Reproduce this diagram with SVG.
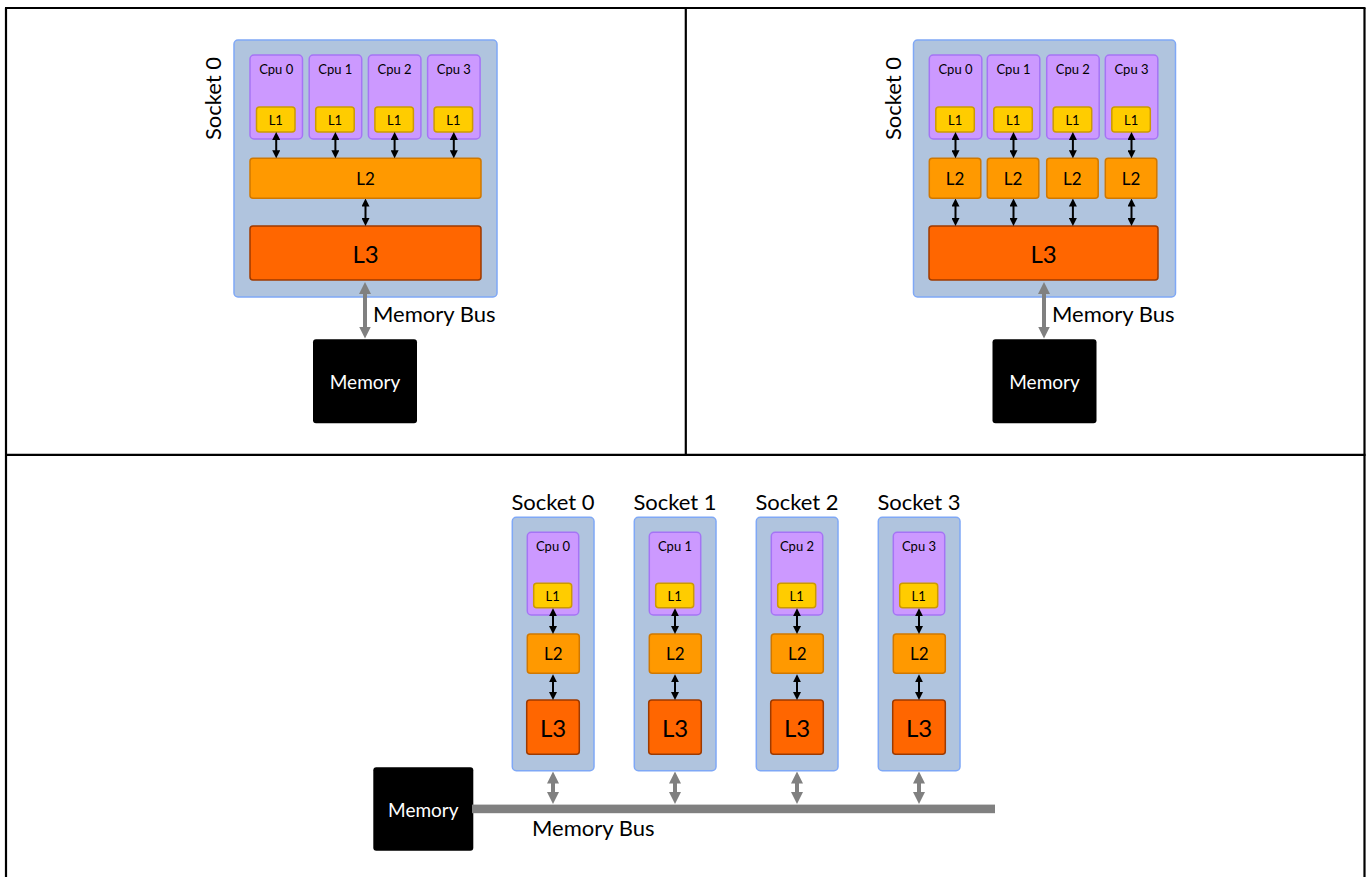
<svg xmlns="http://www.w3.org/2000/svg" width="1368" height="877" viewBox="0 0 1368 877">
  <style>
    text { font-family: Lato, "Liberation Sans", sans-serif; fill: #000; }
    .frame { stroke: #000; stroke-width: 2.2; fill: none; }
    .socket { fill: #b0c4de; stroke: #7fa8f6; stroke-width: 1.5; }
    .cpu { fill: #cc99ff; stroke: #a574f5; stroke-width: 1.5; }
    .l1 { fill: #ffcc00; stroke: #cc9a00; stroke-width: 1.5; }
    .l2 { fill: #ff9900; stroke: #d07800; stroke-width: 1.5; }
    .l3 { fill: #ff6600; stroke: #9e3a00; stroke-width: 1.5; }
    .mem { fill: #000; }
    .bus { fill: #808080; }
    .t-cpu { font-size: 13px; text-anchor: middle; }
    .t-l1 { font-size: 13px; text-anchor: middle; dominant-baseline: central; }
    .t-l2 { font-size: 17px; text-anchor: middle; dominant-baseline: central; }
    .t-l3 { font-size: 24px; text-anchor: middle; dominant-baseline: central; }
    .t-sock { font-size: 22px; text-anchor: middle; }
    .t-mem { font-size: 19px; fill: #fff; text-anchor: middle; dominant-baseline: central; }
    .t-bus { font-size: 22px; }
    .link { stroke: #000; stroke-width: 2; fill: none; marker-start: url(#headB); marker-end: url(#headB); }
    .glink { stroke: #808080; stroke-width: 4; fill: none; marker-start: url(#headG); marker-end: url(#headG); }
  </style>
  <defs>
    <marker id="headB" viewBox="0 0 10 10" refX="3" refY="5" markerUnits="userSpaceOnUse" markerWidth="8" markerHeight="8" orient="auto-start-reverse">
      <path d="M0,0 L10,5 L0,10 z" fill="#000"/>
    </marker>
    <marker id="headG" viewBox="0 0 10 10" refX="3" refY="5" markerUnits="userSpaceOnUse" markerWidth="12" markerHeight="12" orient="auto-start-reverse">
      <path d="M0,0 L10,5 L0,10 z" fill="#808080"/>
    </marker>
  </defs>

  <!-- table grid -->
  <g id="frame">
    <line class="frame" x1="6" y1="8" x2="6" y2="877"/>
    <line class="frame" x1="1364.5" y1="8" x2="1364.5" y2="877"/>
    <line class="frame" x1="5" y1="8" x2="1365.5" y2="8"/>
    <line class="frame" x1="5" y1="454.8" x2="1365.5" y2="454.8"/>
    <line class="frame" x1="685.8" y1="8" x2="685.8" y2="454.8"/>
  </g>

  <!-- Panel A: shared L2 -->
  <g id="a-socket0">
    <rect class="socket" x="234" y="40" width="263" height="257" rx="4"/>
    <text class="t-sock" transform="translate(221,98.5) rotate(-90)">Socket 0</text>
  </g>
  <g id="a-cpu0"><rect class="cpu" x="250" y="55" width="52.5" height="84" rx="4"/><text class="t-cpu" x="276.2" y="74">Cpu 0</text><rect class="l1" x="256.5" y="107" width="38.5" height="25" rx="3"/><text class="t-l1" x="275.8" y="119.5">L1</text></g>
  <g id="a-cpu1"><rect class="cpu" x="309.2" y="55" width="52.5" height="84" rx="4"/><text class="t-cpu" x="335.4" y="74">Cpu 1</text><rect class="l1" x="315.7" y="107" width="38.5" height="25" rx="3"/><text class="t-l1" x="335" y="119.5">L1</text></g>
  <g id="a-cpu2"><rect class="cpu" x="368.4" y="55" width="52.5" height="84" rx="4"/><text class="t-cpu" x="394.6" y="74">Cpu 2</text><rect class="l1" x="374.9" y="107" width="38.5" height="25" rx="3"/><text class="t-l1" x="394.2" y="119.5">L1</text></g>
  <g id="a-cpu3"><rect class="cpu" x="427.6" y="55" width="52.5" height="84" rx="4"/><text class="t-cpu" x="453.8" y="74">Cpu 3</text><rect class="l1" x="434.1" y="107" width="38.5" height="25" rx="3"/><text class="t-l1" x="453.4" y="119.5">L1</text></g>
  <g id="a-l2"><rect class="l2" x="250" y="158.3" width="231" height="40" rx="3"/><text class="t-l2" x="365.5" y="178.3">L2</text></g>
  <g id="a-l3"><rect class="l3" x="250" y="226" width="231" height="54" rx="3"/><text class="t-l3" x="365.5" y="253">L3</text></g>
  <g id="a-memory"><rect class="mem" x="313" y="339.3" width="104" height="84" rx="3"/><text class="t-mem" x="365" y="381.3">Memory</text></g>
  <text id="a-bus-label" class="t-bus" x="373" y="322">Memory Bus</text>

  <!-- Panel B: private L2 -->
  <g id="b-socket0">
    <rect class="socket" x="913.5" y="40" width="262" height="257" rx="4"/>
    <text class="t-sock" transform="translate(900.5,98.5) rotate(-90)">Socket 0</text>
  </g>
  <g id="b-cpu0"><rect class="cpu" x="929.3" y="55" width="52.5" height="84" rx="4"/><text class="t-cpu" x="955.5" y="74">Cpu 0</text><rect class="l1" x="935.8" y="107" width="38.5" height="25" rx="3"/><text class="t-l1" x="955.1" y="119.5">L1</text></g>
  <g id="b-cpu1"><rect class="cpu" x="987.3" y="55" width="52.5" height="84" rx="4"/><text class="t-cpu" x="1013.5" y="74">Cpu 1</text><rect class="l1" x="993.8" y="107" width="38.5" height="25" rx="3"/><text class="t-l1" x="1013.1" y="119.5">L1</text></g>
  <g id="b-cpu2"><rect class="cpu" x="1046.7" y="55" width="52.5" height="84" rx="4"/><text class="t-cpu" x="1072.9" y="74">Cpu 2</text><rect class="l1" x="1053.2" y="107" width="38.5" height="25" rx="3"/><text class="t-l1" x="1072.5" y="119.5">L1</text></g>
  <g id="b-cpu3"><rect class="cpu" x="1105.3" y="55" width="52.5" height="84" rx="4"/><text class="t-cpu" x="1131.5" y="74">Cpu 3</text><rect class="l1" x="1111.8" y="107" width="38.5" height="25" rx="3"/><text class="t-l1" x="1131.1" y="119.5">L1</text></g>
  <g id="b-l2-0"><rect class="l2" x="929.3" y="158.3" width="51.5" height="40" rx="3"/><text class="t-l2" x="955" y="178.3">L2</text></g>
  <g id="b-l2-1"><rect class="l2" x="987.3" y="158.3" width="51.5" height="40" rx="3"/><text class="t-l2" x="1013" y="178.3">L2</text></g>
  <g id="b-l2-2"><rect class="l2" x="1046.7" y="158.3" width="51.5" height="40" rx="3"/><text class="t-l2" x="1072.4" y="178.3">L2</text></g>
  <g id="b-l2-3"><rect class="l2" x="1105.3" y="158.3" width="51.5" height="40" rx="3"/><text class="t-l2" x="1131" y="178.3">L2</text></g>
  <g id="b-l3"><rect class="l3" x="929" y="226" width="229" height="54" rx="3"/><text class="t-l3" x="1043.5" y="253">L3</text></g>
  <g id="b-memory"><rect class="mem" x="992.5" y="339.3" width="104" height="84" rx="3"/><text class="t-mem" x="1044.5" y="381.3">Memory</text></g>
  <text id="b-bus-label" class="t-bus" x="1052" y="322">Memory Bus</text>

  <!-- Panel C: four sockets on one bus -->
  <g id="c-socket0">
    <text class="t-sock" x="553" y="510">Socket 0</text>
    <rect class="socket" x="512.3" y="517.3" width="81.7" height="253.4" rx="4"/>
    <rect class="cpu" x="527.3" y="532.3" width="51.4" height="82.7" rx="4"/><text class="t-cpu" x="553" y="551">Cpu 0</text>
    <rect class="l1" x="533.7" y="583.3" width="38" height="24.4" rx="3"/><text class="t-l1" x="552.7" y="595.5">L1</text>
    <rect class="l2" x="527.3" y="634" width="52" height="39.3" rx="3"/><text class="t-l2" x="553.3" y="653.7">L2</text>
    <rect class="l3" x="526.7" y="700" width="52.6" height="54.3" rx="3"/><text class="t-l3" x="553" y="727.2">L3</text>
  </g>
  <g id="c-socket1">
    <text class="t-sock" x="675" y="510">Socket 1</text>
    <rect class="socket" x="634.3" y="517.3" width="81.7" height="253.4" rx="4"/>
    <rect class="cpu" x="649.3" y="532.3" width="51.4" height="82.7" rx="4"/><text class="t-cpu" x="675" y="551">Cpu 1</text>
    <rect class="l1" x="655.7" y="583.3" width="38" height="24.4" rx="3"/><text class="t-l1" x="674.7" y="595.5">L1</text>
    <rect class="l2" x="649.3" y="634" width="52" height="39.3" rx="3"/><text class="t-l2" x="675.3" y="653.7">L2</text>
    <rect class="l3" x="648.7" y="700" width="52.6" height="54.3" rx="3"/><text class="t-l3" x="675" y="727.2">L3</text>
  </g>
  <g id="c-socket2">
    <text class="t-sock" x="797" y="510">Socket 2</text>
    <rect class="socket" x="756.3" y="517.3" width="81.7" height="253.4" rx="4"/>
    <rect class="cpu" x="771.3" y="532.3" width="51.4" height="82.7" rx="4"/><text class="t-cpu" x="797" y="551">Cpu 2</text>
    <rect class="l1" x="777.7" y="583.3" width="38" height="24.4" rx="3"/><text class="t-l1" x="796.7" y="595.5">L1</text>
    <rect class="l2" x="771.3" y="634" width="52" height="39.3" rx="3"/><text class="t-l2" x="797.3" y="653.7">L2</text>
    <rect class="l3" x="770.7" y="700" width="52.6" height="54.3" rx="3"/><text class="t-l3" x="797" y="727.2">L3</text>
  </g>
  <g id="c-socket3">
    <text class="t-sock" x="919" y="510">Socket 3</text>
    <rect class="socket" x="878.3" y="517.3" width="81.7" height="253.4" rx="4"/>
    <rect class="cpu" x="893.3" y="532.3" width="51.4" height="82.7" rx="4"/><text class="t-cpu" x="919" y="551">Cpu 3</text>
    <rect class="l1" x="899.7" y="583.3" width="38" height="24.4" rx="3"/><text class="t-l1" x="918.7" y="595.5">L1</text>
    <rect class="l2" x="893.3" y="634" width="52" height="39.3" rx="3"/><text class="t-l2" x="919.3" y="653.7">L2</text>
    <rect class="l3" x="892.7" y="700" width="52.6" height="54.3" rx="3"/><text class="t-l3" x="919" y="727.2">L3</text>
  </g>
  <g id="c-memory"><rect class="mem" x="373.3" y="767.3" width="100" height="83.4" rx="3"/><text class="t-mem" x="423.3" y="809">Memory</text></g>
  <g id="c-bus"><rect class="bus" x="472" y="804.6" width="523" height="8.6"/></g>
  <text id="c-bus-label" class="t-bus" x="532" y="836">Memory Bus</text>

  <!-- connectors: line ends sit 5.6px (black) / 8.4px (grey) short of each tip -->
  <g id="connectors">
    <!-- panel A -->
    <line class="link" x1="276.2" y1="137.6" x2="276.2" y2="152.7"/>
    <line class="link" x1="335.4" y1="137.6" x2="335.4" y2="152.7"/>
    <line class="link" x1="394.6" y1="137.6" x2="394.6" y2="152.7"/>
    <line class="link" x1="453.8" y1="137.6" x2="453.8" y2="152.7"/>
    <line class="link" x1="365.5" y1="204.1" x2="365.5" y2="220.4"/>
    <line class="glink" x1="365" y1="290.4" x2="365" y2="330.1"/>
    <!-- panel B -->
    <line class="link" x1="955.5" y1="137.6" x2="955.5" y2="152.7"/>
    <line class="link" x1="1013.5" y1="137.6" x2="1013.5" y2="152.7"/>
    <line class="link" x1="1072.9" y1="137.6" x2="1072.9" y2="152.7"/>
    <line class="link" x1="1131.5" y1="137.6" x2="1131.5" y2="152.7"/>
    <line class="link" x1="955.5" y1="204.1" x2="955.5" y2="220.4"/>
    <line class="link" x1="1013.5" y1="204.1" x2="1013.5" y2="220.4"/>
    <line class="link" x1="1072.9" y1="204.1" x2="1072.9" y2="220.4"/>
    <line class="link" x1="1131.5" y1="204.1" x2="1131.5" y2="220.4"/>
    <line class="glink" x1="1044" y1="290.4" x2="1044" y2="330.1"/>
    <!-- panel C -->
    <line class="link" x1="553" y1="613.9" x2="553" y2="628.4"/>
    <line class="link" x1="675" y1="613.9" x2="675" y2="628.4"/>
    <line class="link" x1="797" y1="613.9" x2="797" y2="628.4"/>
    <line class="link" x1="919" y1="613.9" x2="919" y2="628.4"/>
    <line class="link" x1="553" y1="679.9" x2="553" y2="694.4"/>
    <line class="link" x1="675" y1="679.9" x2="675" y2="694.4"/>
    <line class="link" x1="797" y1="679.9" x2="797" y2="694.4"/>
    <line class="link" x1="919" y1="679.9" x2="919" y2="694.4"/>
    <line class="glink" x1="553" y1="779.9" x2="553" y2="795.6"/>
    <line class="glink" x1="675" y1="779.9" x2="675" y2="795.6"/>
    <line class="glink" x1="797" y1="779.9" x2="797" y2="795.6"/>
    <line class="glink" x1="919" y1="779.9" x2="919" y2="795.6"/>
  </g>
</svg>
